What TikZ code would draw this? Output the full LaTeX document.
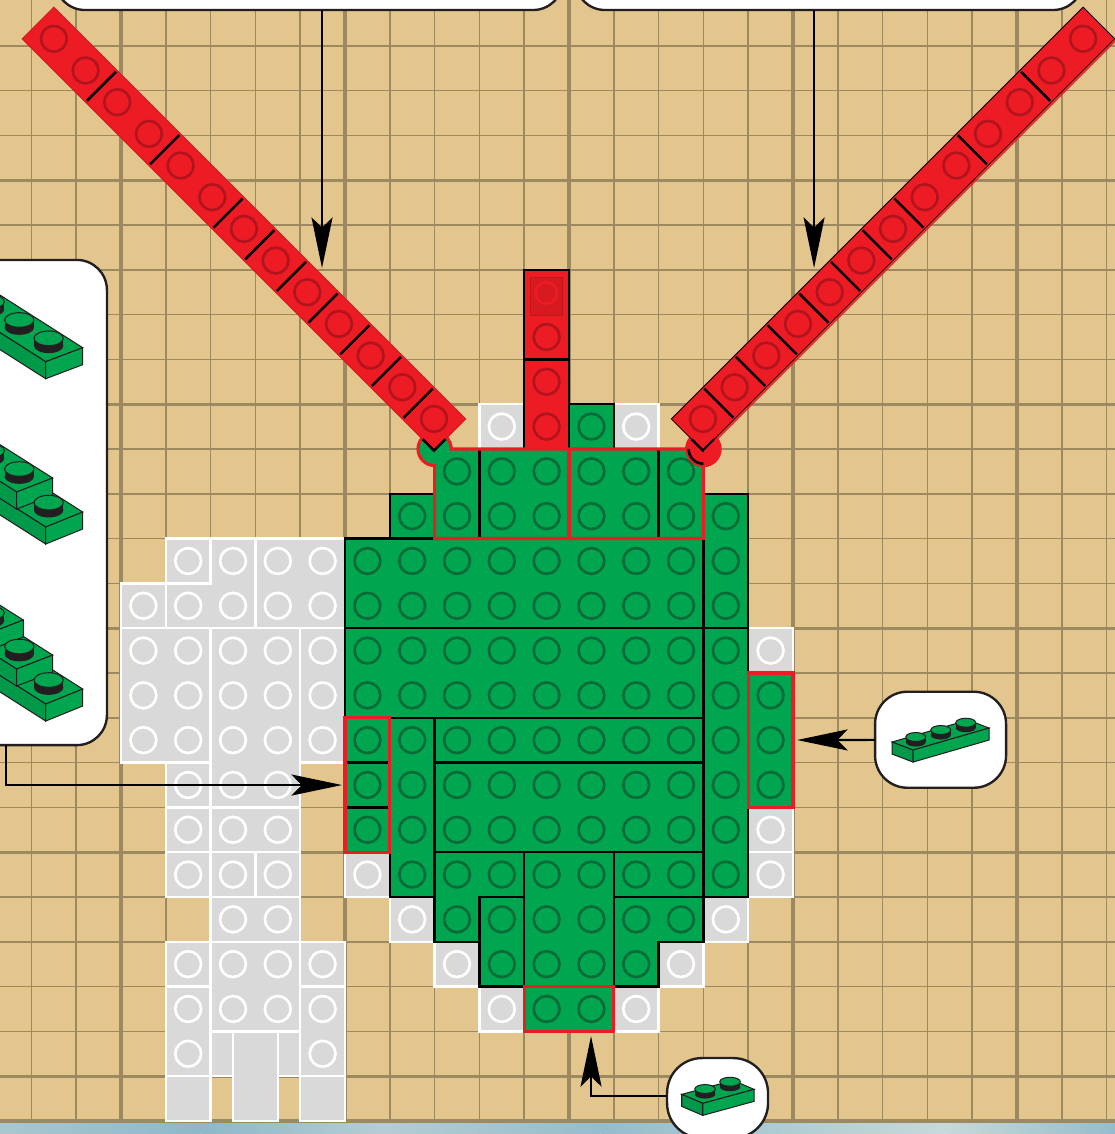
\documentclass[tikz,border=0pt]{standalone}
\usetikzlibrary{arrows.meta}
\definecolor{boardTan}{RGB}{227,198,141}
\definecolor{boardLine}{RGB}{156,137,96}
\definecolor{legoGreen}{RGB}{0,165,79}
\definecolor{legoGreenDark}{RGB}{10,107,56}
\definecolor{legoRed}{RGB}{237,28,36}
\definecolor{legoRedDark}{RGB}{178,20,29}
\definecolor{legoRedTop}{RGB}{215,25,32}
\definecolor{legoGray}{RGB}{217,217,217}
\definecolor{legoInk}{RGB}{35,31,32}
\definecolor{waterA}{RGB}{168,199,209}
\definecolor{waterB}{RGB}{140,184,201}
\definecolor{waterC}{RGB}{181,204,212}
\definecolor{waterD}{RGB}{148,189,204}
\definecolor{waterE}{RGB}{199,217,217}
\tikzset{
    gridline/.style={draw=boardLine,line width=1.05pt},
    gridmajor/.style={draw=boardLine,line width=2pt},
    greenbrick/.style={fill=legoGreen,draw=black,line width=1.6pt},
    greenstud/.style={draw=legoGreenDark,line width=1.7pt},
    graybrick/.style={fill=legoGray,draw=white,line width=1.6pt},
    graystud/.style={draw=white,line width=1.7pt},
    redbrick/.style={fill=legoRed,draw=black,line width=1.6pt},
    redstud/.style={draw=legoRedDark,line width=1.7pt},
    markline/.style={draw=legoRed,line width=2pt},
    seam/.style={draw=black,line width=1.6pt},
    beamleft/.style={fill=legoRed,draw=legoRedTop,line width=.6pt},
    beamright/.style={fill=legoRed,draw=black,line width=.5pt},
    callout/.style={rectangle,draw=legoInk,fill=white,line width=1.5pt,inner sep=0pt,
        outer sep=0pt},
    arr/.style={-{Stealth[length=1.13cm,width=.47cm,inset=.23cm]},line width=1.4pt},
    isoline/.style={draw=legoInk,line width=.65pt},
    px/.style={shift={(-7.701,25.022)},x=.02232cm,y=-.02232cm}
}
% one plate on the board: colour, then its corners in board cells
\newcommand{\plate}[5]{%
    \draw[#1brick] (#2,#3) rectangle (#4,#5);
    \pgfmathtruncatemacro{\xlast}{#4-1}
    \pgfmathtruncatemacro{\ylast}{#5-1}
    \foreach \cx in {#2,...,\xlast}
        \foreach \cy in {#3,...,\ylast}
            \draw[#1stud] (\cx+.5,\cy+.5) circle (.288);
}
\newcommand{\redbeam}[4]{%
    \begin{scope}[shift={(#1,15.67)},rotate=#2]
        \draw[#4] (-.5,-.5) rectangle (.5,12.5);
        \foreach \n in {0,...,12}
            \draw[redstud] (0,\n) circle (.288);
        \foreach \n in {.5,1.5,2.5,3.5,4.5,5.5,6.5,8.5,10.5}
            \draw[seam] (-.46,\n) -- (.46,\n);
        \draw[seam] (#3*.5,-.14) -- (#3*.5,-.5) -- (#3*.14,-.5);
    \end{scope}
}
% small drawn parts inside the callouts, in reference pixels
\newcommand{\isoblock}[7]{%
    \draw[isoline,fill=legoGreen] (#1,#2) -- ++(#3,#4) -- ++(#5,#6) -- ++(-1*#3,-1*#4) -- cycle;
    \draw[isoline,fill=legoGreen!92!black] (#1,#2) -- ++(#5,#6) -- ++(0,#7) -- ++(-1*#5,-1*#6) -- cycle;
    \draw[isoline,fill=legoGreen] (#1,#2) -- ++(#3,#4) -- ++(0,#7) -- ++(-1*#3,-1*#4) -- cycle;
}
\newcommand{\isostud}[5]{%
    \fill[legoInk] (#1-#3,#2) rectangle (#1+#3,#2+#5);
    \fill[legoInk] (#1,#2+#5) ellipse (#3 and #4);
    \draw[isoline,fill=legoGreen] (#1,#2) ellipse (#3 and #4);
}
\newcommand{\hingepath}{(2,14.63) arc (270:0:.37) -- (7.63,15) arc (180:-90:.37) -- (8,13) -- (2,13) -- cycle}
\begin{document}
\begin{tikzpicture}
    \useasboundingbox (-7.701,-.291) rectangle (17.187,25.022);
    \clip (-7.701,-.291) rectangle (17.187,25.022);

    % board and grid
    \fill[boardTan] (-7.701,0) rectangle (17.187,25.022);
    \foreach \xa/\xb/\ca/\cb in {-7.71/-3.2/waterA/waterB,-3.2/.8/waterB/waterC,.8/5.7/waterC/waterD,5.7/13.4/waterD/waterE,13.4/17.19/waterE/waterD}
        \shade[left color=\ca,right color=\cb] (\xa,-.291) rectangle (\xb,0);
    \foreach \gx in {-7,...,17}
        \draw[gridline] (\gx,0) -- (\gx,25.022);
    \foreach \gy in {2,3,4,5,7,8,9,10,12,13,14,15,17,18,19,20,22,23,24}
        \draw[gridline] (-7.701,\gy) -- (17.187,\gy);
    \foreach \gx in {-5,0,5,10,15}
        \draw[gridmajor] (\gx,0) -- (\gx,25.022);
    \foreach \gy in {0,1,6,11,16,21}
        \draw[gridmajor] (-7.701,\gy) -- (17.187,\gy);

    % left figure
    \plate{gray}{-4}{12}{-3}{13}
    \plate{gray}{-5}{11}{-4}{12}
    \draw[graybrick] (-3,13) -- (-2,13) -- (-2,11) -- (-4,11) -- (-4,12) -- (-3,12) -- cycle;
    \foreach \cx/\cy in {-3/12,-4/11,-3/11}
        \draw[graystud] (\cx+.5,\cy+.5) circle (.288);
    \plate{gray}{-2}{11}{0}{13}
    \plate{gray}{-5}{8}{-3}{11}
    \plate{gray}{-3}{7}{-1}{11}
    \plate{gray}{-1}{8}{0}{11}
    \plate{gray}{-4}{7}{-3}{8}
    \plate{gray}{-4}{6}{-3}{7}
    \plate{gray}{-3}{6}{-1}{7}
    \plate{gray}{-4}{5}{-3}{6}
    \plate{gray}{-3}{5}{-2}{6}
    \plate{gray}{-2}{5}{-1}{6}
    \plate{gray}{-3}{4}{-1}{5}
    \plate{gray}{-4}{3}{-3}{4}
    \plate{gray}{-3}{2}{-1}{4}
    \plate{gray}{-1}{3}{0}{4}
    \plate{gray}{-4}{1}{-3}{3}
    \plate{gray}{-1}{1}{0}{3}
    \draw[graybrick] (-3,1) rectangle (-1,2);
    \draw[graybrick] (-2.5,0) rectangle (-1.5,2);
    \draw[graybrick] (-4,0) rectangle (-3,1);
    \draw[graybrick] (-1,0) rectangle (0,1);

    % single gray plates round the green body
    \plate{gray}{3}{15}{4}{16}
    \plate{gray}{6}{15}{7}{16}
    \plate{gray}{0}{5}{1}{6}
    \plate{gray}{1}{4}{2}{5}
    \plate{gray}{2}{3}{3}{4}
    \plate{gray}{3}{2}{4}{3}
    \plate{gray}{6}{2}{7}{3}
    \plate{gray}{7}{3}{8}{4}
    \plate{gray}{8}{4}{9}{5}
    \plate{gray}{9}{5}{10}{6}
    \plate{gray}{9}{6}{10}{7}
    \plate{gray}{9}{10}{10}{11}

    % red mast
    \plate{red}{4}{17}{5}{19}
    \plate{red}{4}{15}{5}{17}
    \draw[draw=legoRedDark!60!legoRedTop,fill=legoRedTop,line width=.5pt] (4.145,17.99) rectangle (4.85,18.82);
    \draw[draw=legoRed,fill=legoRedTop,line width=1.5pt] (4.49,18.48) circle (.24);

    % green body
    \plate{green}{5}{15}{6}{16}
    \plate{green}{1}{13}{2}{14}
    \plate{green}{8}{11}{9}{14}
    \plate{green}{0}{11}{8}{13}
    \plate{green}{0}{9}{8}{11}
    \plate{green}{8}{5}{9}{11}
    \plate{green}{1}{5}{2}{9}
    \plate{green}{2}{8}{8}{9}
    \plate{green}{2}{6}{8}{8}
    \plate{green}{6}{5}{8}{6}
    \draw[greenbrick] (2,6) -- (4,6) -- (4,5) -- (3,5) -- (3,4) -- (2,4) -- cycle;
    \draw[greenbrick] (6,5) -- (8,5) -- (8,4) -- (7,4) -- (7,3) -- (6,3) -- cycle;
    \foreach \cx/\cy in {2/5,3/5,2/4,6/4,7/4,6/3}
        \draw[greenstud] (\cx+.5,\cy+.5) circle (.288);
    \plate{green}{3}{3}{4}{5}
    \plate{green}{4}{3}{6}{6}

    % marked plates
    \plate{green}{0}{8}{1}{9}
    \plate{green}{0}{7}{1}{8}
    \plate{green}{0}{6}{1}{7}
    \plate{green}{9}{7}{10}{10}
    \plate{green}{4}{2}{6}{3}
    \draw[markline] (0,6) rectangle (1,9);
    \draw[markline] (9,7) rectangle (10,10);
    \draw[markline] (4,2) rectangle (6,3);

    % hinge row under the beams
    \fill[legoGreen] \hingepath;
    \foreach \cx in {2,...,7}
        \foreach \cy in {13,14}
            \draw[greenstud] (\cx+.5,\cy+.5) circle (.288);
    \draw[seam] (3,13) -- (3,15);
    \draw[seam] (7,13) -- (7,15);
    \draw[markline] (5,13) -- (5,15);
    \draw[markline] \hingepath;
    \draw[markline,fill=legoRed] (8,15) circle (.37);
    \draw[seam] (8,15) ++(180:.33) arc (180:270:.33);

    % the two long beams
    \redbeam{1.987}{45}{-1}{beamleft}
    \redbeam{7.99}{-45}{1}{beamright}
    \begin{scope}[shift={(7.99,15.67)},rotate=-45]
        \draw[markline,line width=1pt] (.54,-.5) -- (.54,12.5);
    \end{scope}

    % callouts, in reference pixels
    \begin{scope}[px]
        \node[callout,rounded corners=.67cm,minimum width=11.34cm,minimum height=4.69cm] (calloutTL) at (309,-95) {};
        \node[callout,rounded corners=.67cm,minimum width=11.34cm,minimum height=4.69cm] (calloutTR) at (829,-95) {};
        \node[callout,rounded corners=.67cm,minimum width=6.85cm,minimum height=10.83cm] (panelL) at (-46.5,502.5) {};
        \node[callout,rounded corners=.72cm,minimum width=2.924cm,minimum height=2.143cm] (calloutR) at (940.5,739.7) {};
        \node[callout,rounded corners=.78cm,minimum width=2.254cm,minimum height=1.786cm] (calloutB) at (717.5,1098) {};

        \isoblock{45.7}{361.7}{37}{-14}{-110}{-70}{17}
        \isostud{48.7}{338.3}{14.7}{7.3}{7.5}
        \isostud{19.3}{320}{14.7}{7.3}{7.5}
        \isostud{-10.4}{301.7}{14.7}{7.3}{7.5}

        \isoblock{45.7}{527}{37}{-15}{-110}{-70}{17}
        \isoblock{16.7}{492}{36}{-14}{-60}{-38}{17}
        \isostud{48.7}{502.6}{14.7}{7.3}{7.5}
        \isostud{19.3}{469}{14.7}{7.3}{7.5}
        \isostud{-10.4}{450.7}{14.7}{7.3}{7.5}

        \isoblock{45.7}{704}{37}{-15}{-110}{-70}{17}
        \isoblock{16.7}{669}{36}{-14}{-60}{-38}{17}
        \isoblock{-13}{634}{36.3}{-14}{-60}{-38}{17}
        \isostud{48.7}{680}{14.7}{7.3}{7.5}
        \isostud{19.3}{646.5}{14.7}{7.3}{7.5}
        \isostud{-10.4}{613}{14.7}{7.3}{7.5}

        \isoblock{913}{750}{76}{-22}{-21}{-8}{12}
        \isostud{915.7}{737}{10}{4.5}{5}
        \isostud{940.7}{730}{10}{4.5}{5}
        \isostud{965.7}{722.7}{10}{4.5}{5}

        \isoblock{702.7}{1103.3}{51.3}{-14}{-21}{-9}{12}
        \isostud{705}{1089}{10.3}{4.5}{5}
        \isostud{730}{1081.7}{10.3}{4.5}{5}

        \coordinate (hitTL) at (322,268);
        \coordinate (hitTR) at (814,268);
        \coordinate (kneeL) at (6,785);
        \coordinate (hitL)  at (342,785);
        \coordinate (hitR)  at (797,740);
        \coordinate (kneeB) at (591,1096);
        \coordinate (hitB)  at (591,1036);
    \end{scope}

    \draw[arr] (calloutTL.south -| hitTL) -- (hitTL);
    \draw[arr] (calloutTR.south -| hitTR) -- (hitTR);
    \draw[arr] (panelL.south -| kneeL) -- (kneeL) -- (hitL);
    \draw[arr] (calloutR) -- (hitR);
    \draw[arr] (calloutB.west |- kneeB) -- (kneeB) -- (hitB);
\end{tikzpicture}
\end{document}
